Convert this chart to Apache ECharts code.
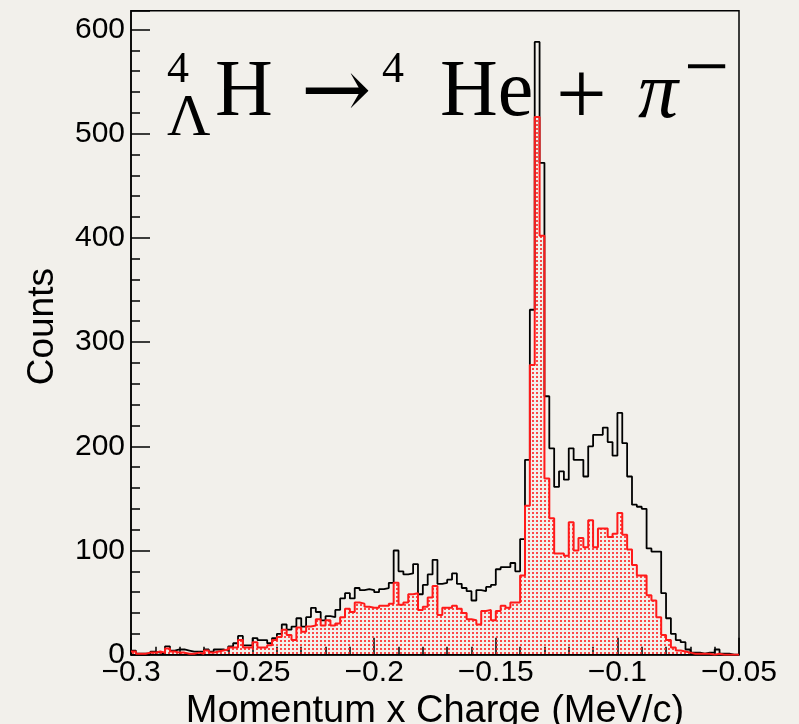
<!DOCTYPE html>
<html>
<head>
<meta charset="utf-8">
<script src="https://cdn.jsdelivr.net/npm/echarts@6/dist/echarts.min.js"></script>
<style>
html, body { margin: 0; padding: 0; background: #f2f0eb; }
#chart { width: 799px; height: 724px; }
</style>
</head>
<body>
<div id="chart"></div>
<script>
// histogram binning: 125 bins of 0.002 from -0.3 to -0.05
const binStart = -0.3;
const binWidth = 0.002;

// all candidates (black outline)
const allCounts = [
    4, 1, 1, 1, 3, 2, 1, 8, 4, 5, 5, 4, 3, 3, 3, 5, 3, 5, 5, 4, 8, 11, 18, 9, 9,
    16, 14, 14, 11, 16, 20, 29, 24, 27, 35, 27, 36, 45, 41, 33, 37, 36, 43, 54, 59, 54, 64, 62,
    63, 62, 60, 63, 64, 69, 100,
    80, 77, 78, 87,
    58, 67, 77, 91, 68, 69, 72, 78, 68, 64, 61, 52, 62, 61, 65, 67, 82, 84, 84, 88, 80, 111, 187,
    331, 588, 472,
    248, 198, 161, 176, 168, 198, 187, 187, 171, 200, 211, 211, 218, 204, 191, 232, 203, 171, 144, 142, 140, 102, 99, 99, 59, 35, 20,
    14, 12, 5, 2, 2, 1, 2, 2, 5, 1, 1, 0, 0
];

// selected (red, filled)
const selectedCounts = [
    3, 1, 1, 2, 2, 3, 2, 6, 3, 2, 2, 1, 1, 2, 1, 4, 2, 3, 4, 5, 7, 7, 14, 7, 7,
    12, 7, 7, 9, 14, 17, 24, 19, 14, 26, 22, 27, 28, 34, 28, 33, 28, 30, 36, 44, 41, 50, 49,
    46, 45, 45, 47, 47, 49, 69,
    48, 50, 58, 59,
    43, 46, 55, 66, 38, 45, 45, 47, 44, 40, 34, 33, 29, 42, 43, 33, 42, 47, 45, 50, 50, 76, 143,
    278, 516, 402,
    169, 131, 97, 97, 95, 127, 100, 112, 103, 129, 103, 121, 121, 113, 116, 136, 115, 101, 86, 76, 76, 57, 52, 36, 19, 14, 7,
    4, 3, 2, 1, 1, 1, 1, 0, 1, 0, 0, 0, 0
];

const xTitle = 'Momentum x Charge (MeV/c)';
const yTitle = 'Counts';

function toSteps(counts) {
    const pts = counts.map((c, i) => [binStart + i * binWidth, c]);
    pts.push([binStart + counts.length * binWidth, counts[counts.length - 1]]);
    return pts;
}

// dotted fill like ROOT fill style
const dots = document.createElement('canvas');
dots.width = 4;
dots.height = 4;
const dctx = dots.getContext('2d');
dctx.fillStyle = 'rgba(255,30,30,0.8)';
dctx.fillRect(0, 0, 2, 2);

const chart = echarts.init(document.getElementById('chart'), null, {renderer: 'canvas'});

const axisFont = 'Liberation Sans, Arial, Helvetica, sans-serif';
const serif = 'Liberation Serif, Times New Roman, serif';

const option = {
    animation: false,
    backgroundColor: '#f2f0eb',
    grid: {
        left: 131, right: 60, top: 10.7, bottom: 69.3,
        outerBoundsMode: 'none',
        containLabel: false,
        show: true, borderColor: '#000', borderWidth: 1.5,
        backgroundColor: 'transparent'
    },
    xAxis: {
        type: 'value',
        min: -0.3,
        max: -0.05,
        interval: 0.05,
        axisLine: { show: true, lineStyle: { color: '#000', width: 1.5 } },
        axisTick: { inside: true, length: 17, lineStyle: { color: '#000', width: 1.5 } },
        minorTick: { show: true, splitNumber: 5, length: 8, lineStyle: { color: '#000', width: 1.5 } },
        splitLine: { show: false },
        axisLabel: {
            color: '#000', fontSize: 30, fontFamily: axisFont, margin: 3,
            formatter: v => String(+v.toFixed(2)).replace('-', '\u2212')
        },
        name: xTitle,
        nameLocation: 'middle',
        nameGap: 27,
        nameTextStyle: { color: '#000', fontSize: 38, fontFamily: axisFont }
    },
    yAxis: {
        type: 'value',
        min: 0,
        max: 618,
        interval: 100,
        axisLine: { show: true, lineStyle: { color: '#000', width: 1.5 } },
        axisTick: { inside: true, length: 19, lineStyle: { color: '#000', width: 1.5 } },
        minorTick: { show: true, splitNumber: 5, length: 9, lineStyle: { color: '#000', width: 1.5 } },
        splitLine: { show: false },
        axisLabel: {
            color: '#000', fontSize: 30, fontFamily: axisFont, margin: 6,
            showMaxLabel: false,
            formatter: v => (v % 100 === 0 ? String(v) : '')
        },
        name: yTitle,
        nameLocation: 'middle',
        nameRotate: 90,
        nameGap: 70,
        nameTextStyle: { color: '#000', fontSize: 37, fontFamily: axisFont, padding: [0, 0, 0, 12] }
    },
    graphic: [
        { type: 'text', z: 0, style: { text: '4', x: 167, y: 70, font: '44px ' + serif, fill: '#000', verticalAlign: 'middle' } },
        { type: 'text', z: 0, style: { text: '\u039B', x: 167, y: 119, font: '60px ' + serif, fill: '#000', verticalAlign: 'middle' } },
        { type: 'text', z: 0, style: { text: 'H', x: 215, y: 94, font: '80px ' + serif, fill: '#000', verticalAlign: 'middle' } },
        { type: 'text', z: 0, style: { text: '\u2192', x: 301, y: 96, font: '84px DejaVu Serif, serif', fill: '#000', verticalAlign: 'middle' } },
        { type: 'text', z: 0, style: { text: '4', x: 382, y: 70, font: '44px ' + serif, fill: '#000', verticalAlign: 'middle' } },
        { type: 'text', z: 0, style: { text: 'He', x: 440, y: 94, font: '80px ' + serif, fill: '#000', verticalAlign: 'middle' } },
        { type: 'text', z: 0, style: { text: '+', x: 556, y: 100, font: '90px ' + serif, fill: '#000', verticalAlign: 'middle' } },
        { type: 'text', z: 0, style: { text: '\u03C0', x: 638, y: 96, font: 'italic 80px ' + serif, fill: '#000', verticalAlign: 'middle' } },
        { type: 'text', z: 0, style: { text: '\u2212', x: 684, y: 72, font: '80px ' + serif, fill: '#000', verticalAlign: 'middle' } }
    ],
    series: [
        {
            name: 'all',
            type: 'line',
            step: 'end',
            data: toSteps(allCounts),
            showSymbol: false,
            silent: true,
            lineStyle: { color: '#000', width: 1.8 },
            z: 3
        },
        {
            name: 'selected',
            type: 'line',
            step: 'end',
            data: toSteps(selectedCounts),
            showSymbol: false,
            silent: true,
            lineStyle: { color: '#ff1a1a', width: 2 },
            areaStyle: { color: { image: dots, repeat: 'repeat' }, opacity: 1 },
            z: 4
        }
    ]
};

chart.setOption(option);
</script>
</body>
</html>
